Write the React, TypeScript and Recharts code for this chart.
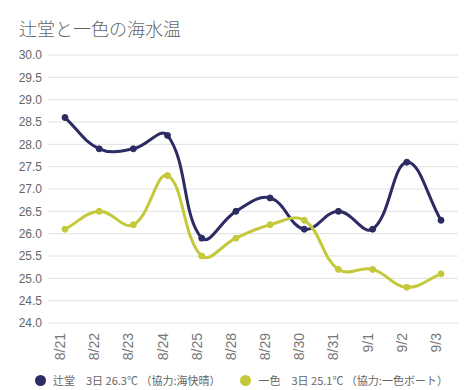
import React from "react"
import { LineChart, Line, XAxis, YAxis, CartesianGrid } from "recharts"

const dates = ["8/21", "8/22", "8/23", "8/24", "8/25", "8/28", "8/29", "8/30", "8/31", "9/1", "9/2", "9/3"]
const tsujido = [28.6, 27.9, 27.9, 28.2, 25.9, 26.5, 26.8, 26.1, 26.5, 26.1, 27.6, 26.3]
const isshiki = [26.1, 26.5, 26.2, 27.3, 25.5, 25.9, 26.2, 26.3, 25.2, 25.2, 24.8, 25.1]
const yTicks = [24, 24.5, 25, 25.5, 26, 26.5, 27, 27.5, 28, 28.5, 29, 29.5, 30]

const legendItems = [
	{ label: "辻堂　3日 26.3℃ （協力:海快晴）", color: "#2c2b62" },
	{ label: "一色　3日 25.1℃ （協力:一色ボート）", color: "#c4c93b" },
]

const data = dates.map((d, i) => ({ date: d, tsujido: tsujido[i], isshiki: isshiki[i] }))

const FONT = "'Liberation Sans', Arial, 'Noto Sans CJK JP', sans-serif"

// chart.js style spline (tension 0.4)
const splineCurve = (context: any) => {
	let pts: [number, number][] = []
	return {
		areaStart() {},
		areaEnd() {},
		lineStart() {
			pts = []
		},
		point(x: number, y: number) {
			pts.push([+x, +y])
		},
		lineEnd() {
			const t = 0.4
			const n = pts.length
			if (!n) return
			const cps = pts.map((cur, i) => {
				const prev = pts[i - 1] || cur
				const next = pts[i + 1] || cur
				const d01 = Math.hypot(cur[0] - prev[0], cur[1] - prev[1])
				const d12 = Math.hypot(next[0] - cur[0], next[1] - cur[1])
				let s01 = d01 / (d01 + d12)
				let s12 = d12 / (d01 + d12)
				if (isNaN(s01)) s01 = 0
				if (isNaN(s12)) s12 = 0
				const fa = t * s01
				const fb = t * s12
				return {
					prev: [cur[0] - fa * (next[0] - prev[0]), cur[1] - fa * (next[1] - prev[1])],
					next: [cur[0] + fb * (next[0] - prev[0]), cur[1] + fb * (next[1] - prev[1])],
				}
			})
			context.moveTo(pts[0][0], pts[0][1])
			for (let i = 1; i < n; i++) {
				const a = cps[i - 1].next
				const b = cps[i].prev
				context.bezierCurveTo(a[0], a[1], b[0], b[1], pts[i][0], pts[i][1])
			}
		},
	}
}

const DateTick = (props: any) => {
	const { x, y, payload } = props
	return (
		<text
			x={0}
			y={0}
			transform={`translate(${x},${y + 2}) rotate(-90)`}
			textAnchor="end"
			fontSize={14}
			fontFamily={FONT}
			fill="#777"
		>
			{payload.value}
		</text>
	)
}

export default function App() {
	return (
		<div style={{ position: "absolute", left: 0, top: 0, width: 475, height: 390, background: "#fff", fontFamily: FONT }}>
			<div style={{ position: "absolute", left: 19, top: 15, fontSize: 18, color: "#666", fontFamily: "'Noto Sans CJK JP', sans-serif", fontWeight: 300 }}>
				辻堂と一色の海水温
			</div>
			<LineChart width={475} height={390} data={data} margin={{ top: 55, right: 17, bottom: 27, left: 0 }}>
				<CartesianGrid vertical={false} stroke="#e0e0e0" />
				<XAxis
					dataKey="date"
					interval={0}
					tickLine={false}
					axisLine={false}
					height={40}
					padding={{ left: 17, right: 17 }}
					tick={<DateTick />}
				/>
				<YAxis
					domain={[24, 30]}
					ticks={yTicks}
					interval={0}
					width={48}
					tickLine={false}
					axisLine={false}
					tickSize={0}
					tickMargin={6}
					tickFormatter={(v: number) => v.toFixed(1)}
					tick={{ fontSize: 12, fill: "#666", fontFamily: FONT }}
				/>
				<Line
					dataKey="tsujido"
					type={splineCurve as any}
					stroke="#2c2b62"
					strokeWidth={3}
					dot={{ r: 3, fill: "#2c2b62", stroke: "#2c2b62", strokeWidth: 1 }}
					isAnimationActive={false}
				/>
				<Line
					dataKey="isshiki"
					type={splineCurve as any}
					stroke="#c4c93b"
					strokeWidth={3}
					dot={{ r: 3, fill: "#c4c93b", stroke: "#c4c93b", strokeWidth: 1 }}
					isAnimationActive={false}
				/>
			</LineChart>
			<div style={{ position: "absolute", left: 35, top: 372, display: "flex", alignItems: "center", fontSize: 11, color: "#666" }}>
				{legendItems.map((item) => (
					<div key={item.label} style={{ display: "flex", alignItems: "center", marginRight: 20 }}>
						<span style={{ width: 11, height: 11, borderRadius: "50%", background: item.color, display: "inline-block", marginRight: 7 }} />
						<span style={{ fontFamily: "'Noto Sans CJK JP', sans-serif" }}>{item.label}</span>
					</div>
				))}
			</div>
		</div>
	)
}
